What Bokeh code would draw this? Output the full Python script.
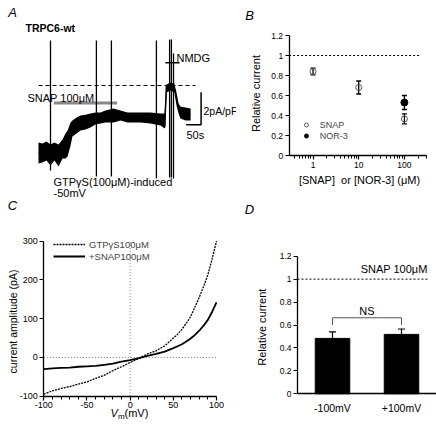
import math
from bokeh.plotting import figure
from bokeh.layouts import row, column
from bokeh.models import (Range1d, FixedTicker, CustomJSTickFormatter, Whisker, TeeHead,
                          Label, Legend, LegendItem, ColumnDataSource)
from bokeh.embed import file_html
from bokeh.resources import INLINE

FONT = "Liberation Sans"

# ---------------- Panel A: whole-cell current trace (t in s, I in pA/pF, 0 = dashed level)
trace_t = [0, 13, 27, 40, 53, 67, 80, 90, 97, 107, 113, 127, 140, 157, 173, 190, 207, 223,
           240, 250, 273, 297, 340, 373, 407, 420, 424, 427, 440, 453, 460, 467, 473, 490, 507]
trace_hi = [-3.50, -3.56, -3.44, -3.62, -3.50, -3.62, -3.31, -2.94, -2.76, -2.27, -2.15,
            -1.96, -1.84, -1.80, -1.72, -1.66, -1.66, -1.53, -1.45, -1.41, -1.53, -1.66,
            -1.66, -1.66, -1.72, -1.72, 0.00, 0.06, 0.18, 0.12, -0.43, -1.10, -1.29, -1.35, -1.41]
trace_lo = [-4.79, -4.72, -4.60, -4.91, -4.60, -4.97, -4.48, -4.48, -4.36, -3.68, -3.13,
            -2.94, -2.76, -2.70, -2.58, -2.39, -2.33, -2.27, -2.27, -2.27, -2.15, -2.27,
            -2.27, -2.33, -2.45, -2.64, -2.50, -0.43, -0.31, -0.43, -1.23, -1.72, -2.02, -2.15, -2.15]
ramp_t = [40, 193, 243, 393, 437, 443, 450]
ramp_top = [2.76, 2.76, 2.76, 2.76, 2.82, 2.82, 1.96]
ramp_bot = [-5.21, -5.58, -5.58, -5.71, -5.64, -5.64, -5.71]
zero_t = [0, 523]
zero_i = [0, 0]
snap_bar_t = [51, 262]
snap_bar_i = [-1.08, -1.08]
nmdg_bar_t = [423, 470]
nmdg_bar_i = [1.39, 1.39]
scale_t = [492, 542, 542]        # 50 s
scale_i = [-2.41, -2.41, -0.41]  # 2 pA/pF

# ---------------- Panel B
conc_snap = [1, 10, 100]
rel_snap = [0.84, 0.68, 0.366]
err_snap = [0.033, 0.065, 0.05]
conc_nor3 = [100]
rel_nor3 = [0.53]
err_nor3 = [0.07]
b_xticks = [1, 10, 100]
b_minor = [0.4, 0.5, 0.6, 0.7, 0.8, 0.9, 2, 3, 4, 5, 6, 7, 8, 9,
           20, 30, 40, 50, 60, 70, 80, 90, 200, 300]
rel_ticks = [0, 0.2, 0.4, 0.6, 0.8, 1, 1.2]

# ---------------- Panel C: I-V relations
vm = [-100, -90, -80, -70, -60, -50, -40, -30, -20, -10, 0, 10, 20, 30, 40, 50,
      55, 60, 65, 70, 75, 80, 85, 90, 95, 100]
i_gtp = [-95, -86, -80, -75, -69, -63, -54, -46, -34, -24, -13, -3, 9, 17, 30, 50,
         60, 73, 88, 105, 130, 155, 183, 213, 255, 300]
i_snap = [-30, -28, -27, -26, -24, -23, -22, -19, -16, -11, -7, -2, 4, 9, 15, 24,
          29, 34, 41, 49, 58, 69, 82, 97, 118, 142]
c_xticks = [-100, -50, 0, 50, 100]
c_xminor = [-90, -80, -70, -60, -40, -30, -20, -10, 10, 20, 30, 40, 60, 70, 80, 90]
c_yticks = [-100, 0, 100, 200, 300]

# ---------------- Panel D
conditions = ["-100mV", "+100mV"]
rel_d = [0.483, 0.518]
err_d = [0.057, 0.047]
ns_level = 0.663
ns_drop = 0.60

# ---------------- layout (pixels)
W1, W2 = 236, 200
H1, H2 = 198, 235


def lin(v1, p1, v2, p2, p):
    return v1 + (p - p1) * (v2 - v1) / (p2 - p1)


def logmap(v1, p1, v2, p2, p):
    return 10 ** lin(math.log10(v1), p1, math.log10(v2), p2, p)


def style_axis(ax, size="8.5px"):
    ax.axis_line_width = 1.3
    ax.axis_line_color = "black"
    ax.major_tick_line_width = 1.2
    ax.major_tick_in = 0
    ax.major_tick_out = 4
    ax.minor_tick_in = 0
    ax.minor_tick_out = 3
    ax.major_label_text_font = FONT
    ax.major_label_text_font_size = size
    ax.major_label_text_color = "black"
    ax.major_label_standoff = 2
    ax.formatter = CustomJSTickFormatter(code="return String(tick)")


def lab(p, text, x, y, size="11px", units="screen", **kw):
    p.add_layout(Label(x=x, y=y, x_units=units, y_units=units, text=text,
                       text_font=FONT, text_font_size=size, text_color="black",
                       text_baseline=kw.pop("text_baseline", "middle"), **kw))


def base_fig(w, h, xr, yr, **kw):
    p = figure(width=w, height=h, x_range=xr, y_range=yr, output_backend="svg",
               toolbar_location=None, min_border=0, **kw)
    p.grid.visible = False
    p.outline_line_color = None
    return p


# ======================= Figure A (page origin 0,0)
ta = lambda px: lin(0, 38, 50, 53, px)        # 50 s = 15 px
ia = lambda py: lin(0, 85, -2, 117.6, py)     # 2 pA/pF = 32.6 px
pa = base_fig(W1, H1, Range1d(ta(0), ta(W1)), Range1d(ia(H1), ia(0)),
              x_axis_location=None, y_axis_location=None)
pa.line(zero_t, zero_i, line_color="black", line_dash="4 3", line_width=1)
pa.line(snap_bar_t, snap_bar_i, line_color="#888888", line_width=3)
pa.varea(x=trace_t, y1=trace_lo, y2=trace_hi, fill_color="black")
pa.line(trace_t, [(a + b) / 2 for a, b in zip(trace_lo, trace_hi)], line_color="black", line_width=1)
pa.segment(x0=ramp_t, y0=ramp_bot, x1=ramp_t, y1=ramp_top, line_color="black", line_width=1.3)
pa.line(nmdg_bar_t, nmdg_bar_i, line_color="black", line_width=1.5)
pa.line(scale_t, scale_i, line_color="black", line_width=1.5)
lab(pa, "A", 12, H1 - 12, size="13px", text_font_style="italic", text_align="center")
lab(pa, "TRPC6-wt", 25, H1 - 27, size="10.5px", text_font_style="bold")
lab(pa, "SNAP 100μM", 27, H1 - 97)
lab(pa, "NMDG", 176, H1 - 57)
lab(pa, "GTPγS(100μM)-induced", 53, H1 - 181)
lab(pa, "-50mV", 53, H1 - 192)
lab(pa, "2pA/pF", 203, H1 - 110, size="10.5px")
lab(pa, "50s", 186, H1 - 134)

# ======================= Figure B (page origin 236,0)
bx = lambda px: logmap(1, 312.5 - W1, 100, 403.9 - W1, px)
by = lambda py: lin(0, 155, 1.2, 35, py)
pb = base_fig(W2, H1, Range1d(bx(0), bx(W2)), Range1d(by(H1), by(0)), x_axis_type="log")
style_axis(pb.xaxis[0])
style_axis(pb.yaxis[0])
pb.xaxis[0].ticker = FixedTicker(ticks=b_xticks, minor_ticks=b_minor)
pb.xaxis[0].fixed_location = 0
pb.xaxis[0].bounds = (0.3, 300)
pb.yaxis[0].ticker = FixedTicker(ticks=rel_ticks)
pb.yaxis[0].fixed_location = 0.3
pb.yaxis[0].bounds = (0, 1.2)
pb.yaxis[0].minor_tick_line_color = None
pb.line([0.3, 225], [1, 1], line_color="black", line_dash="2 2", line_width=1)
src_s = ColumnDataSource(dict(x=conc_snap, y=rel_snap,
                              lo=[v - e for v, e in zip(rel_snap, err_snap)],
                              hi=[v + e for v, e in zip(rel_snap, err_snap)]))
src_n = ColumnDataSource(dict(x=conc_nor3, y=rel_nor3,
                              lo=[v - e for v, e in zip(rel_nor3, err_nor3)],
                              hi=[v + e for v, e in zip(rel_nor3, err_nor3)]))
for s in (src_s, src_n):
    pb.add_layout(Whisker(source=s, base="x", upper="hi", lower="lo", line_width=1.3,
                          upper_head=TeeHead(size=5, line_width=1.3),
                          lower_head=TeeHead(size=5, line_width=1.3)))
r_s = pb.scatter("x", "y", source=src_s, marker="circle", size=6, fill_alpha=0,
                 line_color="#555555", line_width=1)
r_n = pb.scatter("x", "y", source=src_n, marker="circle", size=7, fill_color="black",
                 line_color="black")
lb = Legend(items=[LegendItem(label="SNAP", renderers=[r_s]), LegendItem(label="NOR-3", renderers=[r_n])],
            location=(305.7 - 5 - W1, H1 - 141), glyph_width=10, glyph_height=11, label_height=11,
            spacing=0, padding=0, margin=0, label_standoff=9, border_line_color=None,
            background_fill_alpha=0, label_text_font=FONT, label_text_font_size="9px")
pb.add_layout(lb)
lab(pb, "B", 249 - W1, H1 - 15, size="13px", text_font_style="italic", text_align="center")
lab(pb, "Relative current", 255 - W1, H1 - 93, angle=math.pi / 2, text_align="center")
lab(pb, "[SNAP]\u00a0 or [NOR-3] (μM)", 359 - W1, H1 - 179, text_align="center")

# ======================= Figure C (page origin 0,198)
cx = lambda px: lin(-100, 43.3, 100, 216, px)
cy = lambda py: lin(300, 240.7 - H1, -100, 395.7 - H1, py)
pc = base_fig(W1, H2, Range1d(cx(0), cx(W1)), Range1d(cy(H2), cy(0)))
style_axis(pc.xaxis[0], "9px")
style_axis(pc.yaxis[0], "9px")
pc.xaxis[0].ticker = FixedTicker(ticks=c_xticks, minor_ticks=c_xminor)
pc.xaxis[0].fixed_location = -100
pc.xaxis[0].bounds = (-100, 100)
pc.yaxis[0].ticker = FixedTicker(ticks=c_yticks)
pc.yaxis[0].fixed_location = -100
pc.yaxis[0].bounds = (-100, 300)
pc.yaxis[0].minor_tick_line_color = None
pc.line([-100, 100], [0, 0], line_color="#777777", line_dash="1 2", line_width=1)
pc.line([0, 0], [-100, 300], line_color="#777777", line_dash="1 2", line_width=1)
r_g = pc.line(vm, i_gtp, line_color="black", line_dash="2 1", line_width=1.3)
r_p = pc.line(vm, i_snap, line_color="black", line_width=1.8)
lc = Legend(items=[LegendItem(label="GTPγS100μM", renderers=[r_g]), LegendItem(label="+SNAP100μM", renderers=[r_p])],
            location=(53, 433 - 262.4), glyph_width=32, glyph_height=12, label_height=12, spacing=0,
            padding=0, margin=0, label_standoff=4, border_line_color=None, background_fill_alpha=0,
            label_text_font=FONT, label_text_font_size="9.5px")
pc.add_layout(lc)
lab(pc, "C", 12, 433 - 205, size="13px", text_font_style="italic", text_align="center")
lab(pc, "current amplitude (pA)", 12, 433 - 321, size="10.5px", angle=math.pi / 2, text_align="center")
lab(pc, "V", 110, 433 - 412.7, text_font_style="italic")
lab(pc, "m", 117.5, 433 - 416, size="8px")
lab(pc, "(mV)", 124, 433 - 412.7)

# ======================= Figure D (page origin 236,198)
dx = lambda px: lin(1, 332 - W1, 2, 401 - W1, px)
dy = lambda py: lin(0, 393.3 - H1, 1.2, 255.7 - H1, py)
pd_ = base_fig(W2, H2, Range1d(dx(0), dx(W2)), Range1d(dy(H2), dy(0)))
style_axis(pd_.xaxis[0], "10.5px")
style_axis(pd_.yaxis[0])
pd_.xaxis[0].ticker = FixedTicker(ticks=[1, 2])
pd_.xaxis[0].formatter = CustomJSTickFormatter(args=dict(labels=conditions),
                                               code="return labels[Math.round(tick) - 1]")
pd_.xaxis[0].major_tick_line_color = None
pd_.xaxis[0].minor_tick_line_color = None
pd_.xaxis[0].major_label_standoff = 4
pd_.xaxis[0].fixed_location = 0
pd_.xaxis[0].bounds = (dx(297 - W1), dx(W2))
pd_.yaxis[0].ticker = FixedTicker(ticks=rel_ticks)
pd_.yaxis[0].minor_tick_line_color = None
pd_.yaxis[0].fixed_location = dx(297 - W1)
pd_.yaxis[0].bounds = (0, 1.2)
pd_.line([dx(297 - W1), dx(429 - W1)], [1, 1], line_color="black", line_dash="2 2", line_width=1)
pd_.vbar(x=[1, 2], top=rel_d, width=0.5, fill_color="black", line_color="black")
src_d = ColumnDataSource(dict(x=[1, 2], lo=rel_d, hi=[v + e for v, e in zip(rel_d, err_d)]))
pd_.add_layout(Whisker(source=src_d, base="x", upper="hi", lower="lo", line_width=1.2,
                       upper_head=TeeHead(size=7, line_width=1.2), lower_head=None))
pd_.line([1, 1, 2, 2], [ns_drop, ns_level, ns_level, ns_drop], line_color="#555555", line_width=1)
lab(pd_, "NS", 1.5, 0.725, units="data", text_align="center")
lab(pd_, "SNAP 100μM", dx(427 - W1), 1.09, units="data", text_align="right")
lab(pd_, "D", 249 - W1, 433 - 209, size="13px", text_font_style="italic", text_align="center")
lab(pd_, "Relative current", 261 - W1, 433 - 326.7, angle=math.pi / 2, text_align="center")

layout = column(row(pa, pb), row(pc, pd_))
open("out.html", "w").write(file_html(layout, INLINE))
